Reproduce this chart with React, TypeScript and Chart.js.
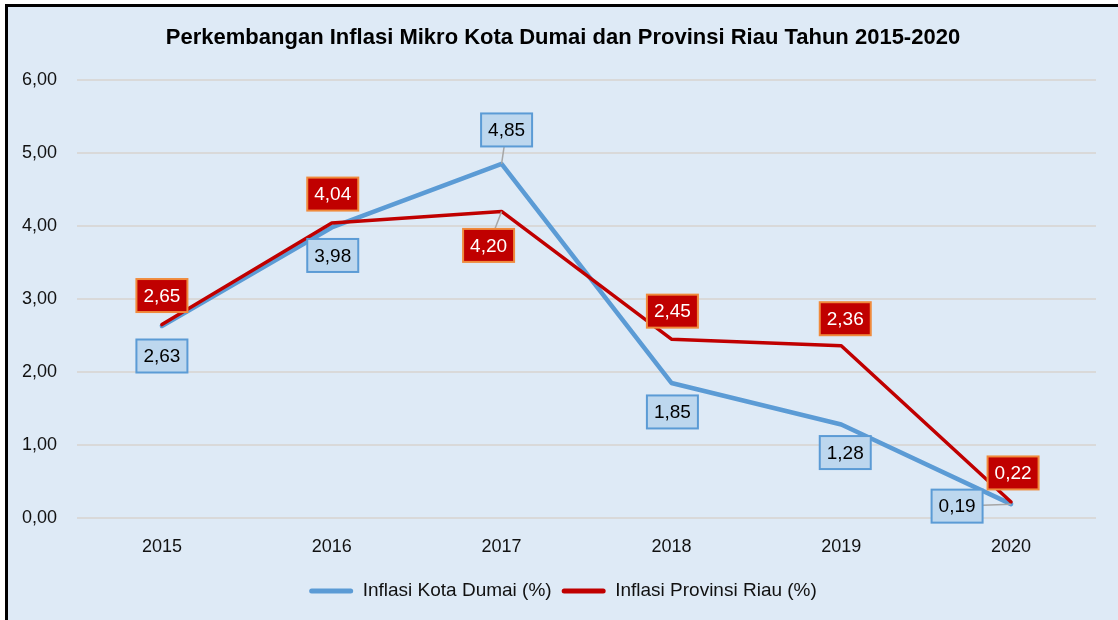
import React, { useEffect, useRef } from 'react';
import { Chart, registerables } from 'chart.js';

Chart.register(...registerables);

// ---- data ----
const years = ['2015', '2016', '2017', '2018', '2019', '2020'];
const dumai = [2.63, 3.98, 4.85, 1.85, 1.28, 0.19];
const riau = [2.65, 4.04, 4.2, 2.45, 2.36, 0.22];
const yTicks = [0, 1, 2, 3, 4, 5, 6];
const dumaiName = 'Inflasi Kota Dumai (%)';
const riauName = 'Inflasi Provinsi Riau (%)';
const titleText = 'Perkembangan Inflasi Mikro Kota Dumai dan Provinsi Riau Tahun 2015-2020';

// ---- label layout (pixel offsets of the label box centre from its point) ----
const dumaiLabelOffset = [[0, 30], [1, 28], [5, -34], [1, 29], [4, 28], [-54, 2]];
const riauLabelOffset = [[0, -29], [1, -29], [-13, 34], [1, -28], [4, -27], [2, -29]];
const dumaiLeader = [false, false, true, false, false, true];
const riauLeader = [false, false, true, false, false, false];

const fmt = (v: number) => v.toFixed(2).replace('.', ',');

function hasFont(name: string) {
  const c = document.createElement('canvas').getContext('2d')!;
  const s = 'abcdefghijklmnopqrstuvwxyz0123456789ABCDEF';
  c.font = '40px monospace';
  const a = c.measureText(s).width;
  c.font = `40px "${name}", monospace`;
  const b = c.measureText(s).width;
  return Math.abs(a - b) > 0.5;
}

export default function App() {
  const ref = useRef<HTMLCanvasElement>(null);

  useEffect(() => {
    document.body.style.margin = '0';
    const narrow = hasFont('Liberation Sans Narrow');
    const family = narrow
      ? '"Liberation Sans Narrow", "Liberation Sans", Arial, sans-serif'
      : '"Liberation Sans", Arial, sans-serif';
    const tickSize = narrow ? 22 : 18;
    const legendSize = narrow ? 21 : 19;
    const labelSize = narrow ? 22 : 19;
    const titleSize = narrow ? 25 : 22;

    // layout targets
    const plotLeft = 77;
    const padRight = 22;
    const headShift = 15; // title / legend centred slightly right of the canvas centre
    const plotTop = 80;
    const titleCenter = 38;
    const legendCenter = 591;
    const plotBottom = 518;
    const legendPad = 10;
    const titleLH = titleSize * 1.2;
    const titlePadTop = titleCenter - titleLH / 2;
    const titlePadBottom = plotTop - titlePadTop - titleLH;
    const layoutBottom = 610 - legendSize / 2 - legendCenter;
    const legendHeight = legendSize + legendPad + 10;
    const xAxisHeight = 620 - layoutBottom - legendHeight - plotBottom;

    const shiftPlugin = {
      id: 'shiftHead',
      afterLayout(chart: any) {
        const boxes = [chart.titleBlock, chart.legend];
        boxes.forEach((b: any) => {
          if (b) {
            b.left += headShift;
            b.right += headShift;
          }
        });
      },
    };

    const labelPlugin = {
      id: 'boxLabels',
      afterDatasetsDraw(chart: any) {
        const ctx = chart.ctx as CanvasRenderingContext2D;
        const cfgs = [
          { off: dumaiLabelOffset, leader: dumaiLeader, fill: '#BDD7EE', stroke: '#5B9BD5', text: '#000', vals: dumai },
          { off: riauLabelOffset, leader: riauLeader, fill: '#C00000', stroke: '#F08A3C', text: '#fff', vals: riau },
        ];
        const w = 51, h = 33;
        cfgs.forEach((cfg, di) => {
          const meta = chart.getDatasetMeta(di);
          meta.data.forEach((pt: any, i: number) => {
            const [dx, dy] = cfg.off[i];
            const cx = pt.x + dx, cy = pt.y + dy;
            const x0 = cx - w / 2, y0 = cy - h / 2;
            ctx.save();
            if (cfg.leader[i]) {
              const vx = cx - pt.x, vy = cy - pt.y;
              let t = 1;
              if (vx !== 0) {
                const tx = vx > 0 ? (x0 - pt.x) / vx : (x0 + w - pt.x) / vx;
                if (tx > 0 && tx < t) {
                  const yy = pt.y + vy * tx;
                  if (yy >= y0 && yy <= y0 + h) t = tx;
                }
              }
              if (vy !== 0) {
                const ty = vy > 0 ? (y0 - pt.y) / vy : (y0 + h - pt.y) / vy;
                if (ty > 0 && ty < t) {
                  const xx = pt.x + vx * ty;
                  if (xx >= x0 && xx <= x0 + w) t = ty;
                }
              }
              ctx.strokeStyle = '#A6A6A6';
              ctx.lineWidth = 1.5;
              ctx.beginPath();
              ctx.moveTo(pt.x, pt.y);
              ctx.lineTo(pt.x + vx * t, pt.y + vy * t);
              ctx.stroke();
            }
            ctx.fillStyle = cfg.fill;
            ctx.fillRect(x0, y0, w, h);
            ctx.strokeStyle = cfg.stroke;
            ctx.lineWidth = 2;
            ctx.strokeRect(x0, y0, w, h);
            ctx.fillStyle = cfg.text;
            ctx.font = `${labelSize}px ${family}`;
            ctx.textAlign = 'center';
            ctx.textBaseline = 'middle';
            ctx.fillText(fmt(cfg.vals[i]), cx, cy + 1);
            ctx.restore();
          });
        });
      },
    };

    const chart = new Chart(ref.current!, {
      type: 'line',
      data: {
        labels: years,
        datasets: [
          {
            label: dumaiName,
            data: dumai,
            borderColor: '#5B9BD5',
            backgroundColor: '#5B9BD5',
            borderWidth: 4.5,
            pointRadius: 0,
            borderJoinStyle: 'round',
            borderCapStyle: 'round',
            order: 2,
          },
          {
            label: riauName,
            data: riau,
            borderColor: '#C00000',
            backgroundColor: '#C00000',
            borderWidth: 3.5,
            pointRadius: 0,
            borderJoinStyle: 'round',
            borderCapStyle: 'round',
            order: 1,
          },
        ],
      },
      options: {
        responsive: false,
        animation: false,
        layout: { padding: { left: 0, right: padRight, top: 0, bottom: layoutBottom } },
        plugins: {
          title: {
            display: true,
            text: titleText,
            color: '#000',
            font: { family, size: titleSize, weight: 'bold', lineHeight: 1.2 },
            padding: { top: titlePadTop, bottom: titlePadBottom },
          },
          legend: {
            position: 'bottom',
            labels: {
              boxWidth: 44,
              boxHeight: 5,
              padding: legendPad,
              color: '#111',
              font: { family, size: legendSize },
              useBorderRadius: true,
              borderRadius: 2.5,
              generateLabels: (c: any) =>
                c.data.datasets.map((ds: any, i: number) => ({
                  text: ds.label,
                  fillStyle: ds.borderColor,
                  strokeStyle: ds.borderColor,
                  lineWidth: 0,
                  hidden: false,
                  datasetIndex: i,
                  borderRadius: 2.5,
                  fontColor: '#111',
                })),
            },
          },
          tooltip: { enabled: false },
        },
        scales: {
          x: {
            offset: true,
            grid: { display: false, drawTicks: false, offset: true },
            border: { display: false },
            ticks: { color: '#111', font: { family, size: tickSize }, padding: 18 },
            afterFit: (s: any) => { s.height = xAxisHeight; },
          },
          y: {
            min: 0,
            max: 6,
            grid: { color: '#D9D9D9', lineWidth: 2, drawTicks: false },
            border: { display: false },
            ticks: {
              color: '#111',
              font: { family, size: tickSize },
              padding: 20,
              callback: (v: any) => fmt(Number(v)),
            },
            afterBuildTicks: (s: any) => { s.ticks = yTicks.map((v) => ({ value: v })); },
            afterFit: (s: any) => { s.width = plotLeft; },
          },
        },
      } as any,
      plugins: [shiftPlugin, labelPlugin],
    });
    return () => chart.destroy();
  }, []);

  return (
    <div style={{ position: 'relative', width: 1118, height: 620, overflow: 'hidden', background: '#fff' }}>
      <div
        style={{
          position: 'absolute',
          left: 5,
          top: 4,
          width: 1140,
          height: 640,
          border: '3px solid #000',
          background: '#DEEAF6',
        }}
      />
      <canvas
        ref={ref}
        width={1118}
        height={620}
        style={{ position: 'absolute', left: 0, top: 0, width: 1118, height: 620 }}
      />
    </div>
  );
}
